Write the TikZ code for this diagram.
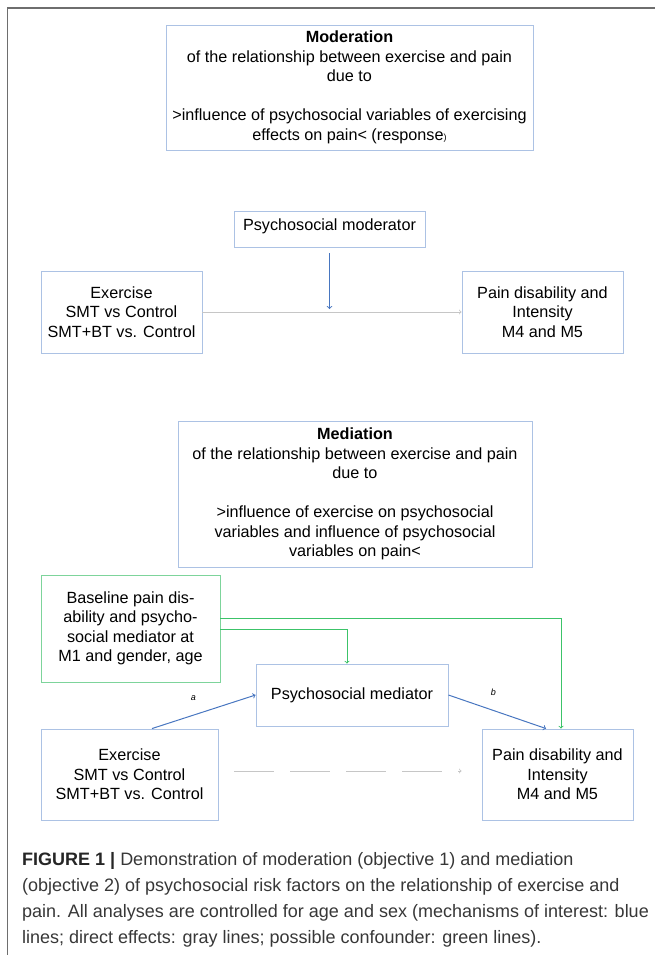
\documentclass[tikz,border=0pt]{standalone}
\usepackage{fontspec}
\setmainfont{Liberation Sans}
\definecolor{boxblue}{RGB}{172,194,228}
\definecolor{boxgreen}{RGB}{125,212,155}
\definecolor{greenln}{RGB}{60,195,105}
\definecolor{blueln}{RGB}{72,118,192}
\definecolor{grayln}{RGB}{198,198,198}
\definecolor{framegray}{RGB}{110,110,110}
\definecolor{captext}{RGB}{55,55,55}
\begin{document}
\begin{tikzpicture}[x=1pt,y=-1pt,
    box/.style={draw=boxblue, line width=0.9pt, align=center, inner sep=0pt,
                font=\fontsize{16.2}{19.5}\selectfont},
    gbox/.style={box, draw=boxgreen},
    bluearr/.style={draw=blueln, line width=1pt, ->},
    grayarr/.style={draw=grayln, line width=0.8pt, ->},
    greenarr/.style={draw=greenln, line width=0.9pt, ->},
    pathlbl/.style={font=\fontsize{9}{9}\selectfont\itshape, inner sep=1pt}]
    \useasboundingbox (0,0) rectangle (655,955);
    \draw[framegray, line width=1.5pt] (7.5,955) -- (7.5,8) -- (655,8);

    % moderation
    \node[box, minimum width=367, minimum height=125] (moder) at (349.5,87.5)
        {\textbf{Moderation}\\of the relationship between exercise and pain\\due to\\[19.5pt]%
         >influence of psychosocial variables of exercising\\effects on pain< (response{\fontsize{9}{9}\selectfont)}};
    \node[box, minimum width=191, minimum height=36, text height=11.5pt, text depth=9pt] (modvar) at (329.5,229) {Psychosocial moderator};
    \node[box, minimum width=161, minimum height=82] (exA) at (121.5,312) {Exercise\\SMT vs Control\\SMT+BT vs. Control};
    \node[box, minimum width=161, minimum height=82] (painA) at (542.5,312) {Pain disability and\\Intensity\\M4 and M5};
    \coordinate (hit) at (modvar.south |- exA.east);
    \draw[grayarr] (exA.east) -- (painA.west);
    \draw[bluearr] ([yshift=-6pt]modvar.south) -- ([yshift=3pt]hit);

    % mediation
    \node[box, minimum width=354, minimum height=146] (medi) at (355,494)
        {\textbf{Mediation}\\of the relationship between exercise and pain\\due to\\[19.5pt]%
         >influence of exercise on psychosocial\\variables and influence of psychosocial\\variables on pain<};
    \node[gbox, minimum width=179, minimum height=107] (base) at (130.5,628.5)
        {Baseline pain dis-\\ability and psycho-\\social mediator at\\M1 and gender, age};
    \node[box, minimum width=192, minimum height=62] (medvar) at (352,695) {Psychosocial mediator};
    \node[box, minimum width=177, minimum height=91] (exB) at (129.5,774.5) {Exercise\\SMT vs Control\\SMT+BT vs. Control};
    \node[box, minimum width=151, minimum height=91] (painB) at (557.5,774.5) {Pain disability and\\Intensity\\M4 and M5};

    \draw[greenarr] ([yshift=10.5pt]base.east) -| ([xshift=3.5pt]painB.north);
    \draw[greenarr] ([yshift=-0.5pt]base.east) -| ([xshift=-5pt]medvar.north);
    \draw[bluearr] ([xshift=22.5pt]exB.north) -- (medvar.west) node[pathlbl, pos=0.4, above=13pt] {a};
    \draw[bluearr] (medvar.east) -- ([xshift=-11.5pt]painB.north) node[pathlbl, pos=0.46, above=13pt] {b};
    \draw[grayarr, dash pattern=on 40pt off 16pt] ([xshift=16pt,yshift=3.5pt]exB.east) -- ([xshift=-20pt,yshift=3.5pt]painB.west);

    % caption
    \node[anchor=north west, inner sep=0pt, align=left, text=captext,
          font=\fontsize{18}{26}\selectfont] (cap) at (22,852)
        {\textbf{\color{black!85}FIGURE 1 |} Demonstration of moderation (objective 1) and mediation\\
         (objective 2) of psychosocial risk factors on the relationship of exercise and\\
         pain. All analyses are controlled for age and sex (mechanisms of interest: blue\\
         lines; direct effects: gray lines; possible confounder: green lines).};
\end{tikzpicture}
\end{document}
